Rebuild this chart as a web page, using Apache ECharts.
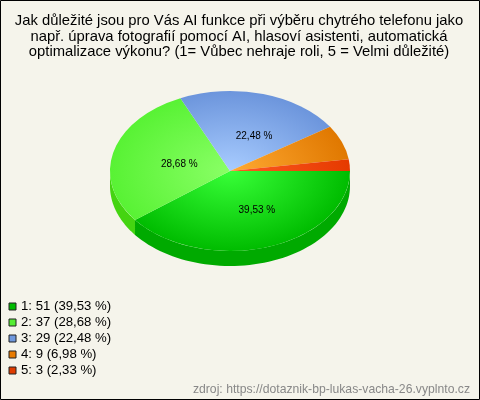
<!DOCTYPE html>
<html><head><meta charset="utf-8">
<style>html,body{margin:0;padding:0;background:#f5f4eb}#c{width:480px;height:400px}</style>
<script src="https://cdn.jsdelivr.net/npm/echarts@6/dist/echarts.min.js"></script>
</head><body><div id="c"></div>
<script>
const titleLines = ['Jak důležité jsou pro Vás AI funkce při výběru chytrého telefonu jako','např. úprava fotografií pomocí AI, hlasoví asistenti, automatická','optimalizace výkonu? (1= Vůbec nehraje roli, 5 = Velmi důležité)'];
const categories = ['1','2','3','4','5'];
const values = [51,37,29,9,3];
const percents = ['39,53','28,68','22,48','6,98','2,33'];
const sliceLabels = ['39,53 %','28,68 %','22,48 %','',''];
const legendColors = ['#00bb00','#55ee33','#6f98dd','#e87b00','#e03c00'];
const innerColors = ['#38ff38','#8aff66','#a8ccff','#ffaa33','#ff5a22'];
const outerColors = ['#00bc00','#58f234','#6c95dc','#e07800','#e53a00'];
const wallColors = ['#00aa00','#44d411','#5577bb','#bb6600','#bb3000'];
const source = 'zdroj: https://dotaznik-bp-lukas-vacha-26.vyplnto.cz';

const CX=230, CY=171, RX=120, RY=80, DEPTH=15;
const total = values.reduce((a,b)=>a+b,0);
const starts = []; { let s=0; values.forEach(v=>{starts.push(s); s+=v/total*Math.PI*2;}); }

function renderSlice(i){
  return function(params, api){
    const v = api.value(0);
    const a0 = starts[i], a1 = a0 + v/total*Math.PI*2;
    const children = [];
    const w0 = Math.min(a0,Math.PI), w1 = Math.min(a1,Math.PI);
    if (w1>w0){
      const pts=[]; const n=60;
      for(let k=0;k<=n;k++){const t=w0+(w1-w0)*k/n; pts.push([CX+RX*Math.cos(t),CY+RY*Math.sin(t)]);}
      for(let k=n;k>=0;k--){const t=w0+(w1-w0)*k/n; pts.push([CX+RX*Math.cos(t),CY+DEPTH+RY*Math.sin(t)]);}
      children.push({type:'polygon',shape:{points:pts},style:{fill:wallColors[i]}});
    }
    children.push({type:'sector',x:CX,y:CY,scaleY:RY/RX,
      shape:{cx:0,cy:0,r0:0,r:RX,startAngle:a0,endAngle:a1,clockwise:true},
      style:{fill:{type:'radial',x:0,y:0,r:RX,global:true,colorStops:[{offset:0,color:innerColors[i]},{offset:1,color:outerColors[i]}]}}});
    if (sliceLabels[i]){
      const m=(a0+a1)/2;
      children.push({type:'text',z2:10,x:CX+7.5+0.5*RX*Math.cos(m),y:CY+2.5+0.484*RY*Math.sin(m),
        style:{text:sliceLabels[i],fontFamily:'Liberation Sans',fontSize:10,fill:'#000',align:'center',verticalAlign:'middle'}});
    }
    return {type:'group',children};
  };
}

const chart = echarts.init(document.getElementById('c'),null,{renderer:'canvas'});
chart.setOption({
  animation:false,
  backgroundColor:'#f5f4eb',
  title:{show:false},
  legend:{
    orient:'vertical',left:3.5,top:295,itemWidth:7,itemHeight:7,itemGap:3,
    icon:'rect',selectedMode:false,
    data:categories.map(c=>c),
    formatter:n=>{const i=categories.indexOf(n);return `${n}: ${values[i]} (${percents[i]} %)`;},
    textStyle:{fontFamily:'Liberation Sans',fontSize:13.2,color:'#000',lineHeight:13},
    itemStyle:{borderColor:'#222',borderWidth:1}
  },
  graphic:[
    {type:'rect',z:50,shape:{x:0.5,y:0.5,width:479,height:399},style:{fill:'none',stroke:'#000',lineWidth:1}},
    {type:'text',z:50,x:239,y:13.5,style:{text:titleLines.join('\n'),fontFamily:'Liberation Sans',fontSize:14.8,lineHeight:15.5,fill:'#000',align:'center'}},
    {type:'text',z:50,x:470,y:384,style:{text:source,fontFamily:'Liberation Sans',fontSize:12.2,fill:'#888',align:'right'}}
  ],
  series:categories.map((c,i)=>({
    type:'custom',name:c,coordinateSystem:'none',silent:true,
    itemStyle:{color:legendColors[i]},
    data:[[values[i]]],
    renderItem:renderSlice(i)
  }))
});
</script></body></html>
